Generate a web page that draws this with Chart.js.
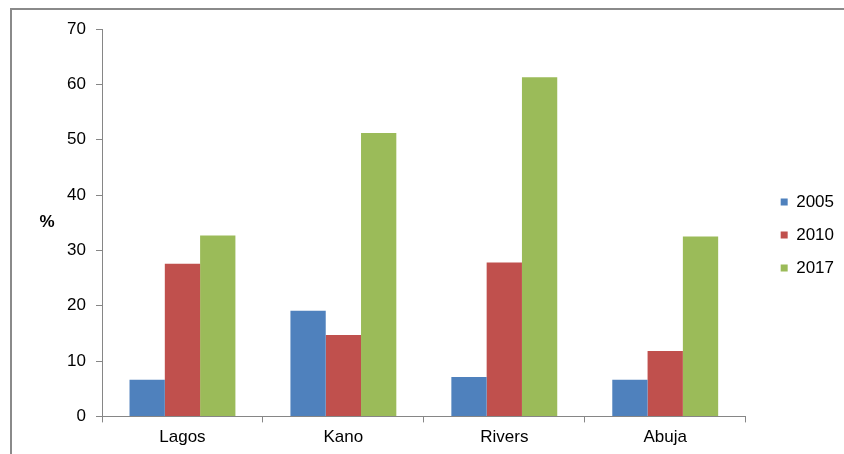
<!DOCTYPE html>
<html>
<head>
<meta charset="utf-8">
<script src="https://cdn.jsdelivr.net/npm/chart.js@4/dist/chart.umd.min.js"></script>
<style>
  html, body { margin: 0; padding: 0; background: #fff; }
  #wrap { position: relative; width: 844px; height: 454px; }
</style>
</head>
<body>
<div id="wrap"><canvas id="c" width="844" height="454"></canvas></div>
<script>
// States on the category axis
const states = ['Lagos', 'Kano', 'Rivers', 'Abuja'];
// Share (%) per state for each survey year
const y2005 = [6.6, 19.1, 7.1, 6.6];
const y2010 = [27.6, 14.7, 27.8, 11.8];
const y2017 = [32.7, 51.2, 61.3, 32.5];
const seriesNames = ['2005', '2010', '2017'];
const seriesColors = ['#4F81BD', '#C0504D', '#9BBB59'];
const yTicks = [0, 10, 20, 30, 40, 50, 60, 70];

const FONT = 'Liberation Sans, Arial, sans-serif';
const AXIS = '#868686';

// Outer frame on the left and top edges, plus the "%" axis caption
const framePlugin = {
  id: 'frame',
  beforeDraw(chart) {
    const ctx = chart.ctx;
    ctx.save();
    ctx.strokeStyle = '#8a8a8a';
    ctx.lineWidth = 2;
    ctx.beginPath();
    ctx.moveTo(11, chart.height);
    ctx.lineTo(11, 9);
    ctx.lineTo(chart.width, 9);
    ctx.stroke();
    ctx.restore();
  },
  afterDraw(chart) {
    const ctx = chart.ctx;
    const a = chart.chartArea;
    ctx.save();
    ctx.font = 'bold 17px ' + FONT;
    ctx.fillStyle = '#000';
    ctx.textAlign = 'center';
    ctx.textBaseline = 'middle';
    ctx.fillText('%', 47, (a.top + a.bottom) / 2);
    ctx.restore();
  }
};

// Leave a gap between the plot and the legend, and lift the legend slightly
const legendGap = {
  id: 'legendGap',
  afterLayout(chart) {
    const lg = chart.legend;
    if (lg) {
      lg.left += 19; lg.right += 19;
      lg.top -= 6; lg.bottom -= 6;
    }
  }
};

new Chart(document.getElementById('c'), {
  type: 'bar',
  data: {
    labels: states,
    datasets: [y2005, y2010, y2017].map((d, i) => ({
      label: seriesNames[i],
      data: d,
      backgroundColor: seriesColors[i],
      borderWidth: 0,
      categoryPercentage: 0.658,
      barPercentage: 1
    }))
  },
  options: {
    responsive: false,
    animation: false,
    devicePixelRatio: 1,
    layout: { padding: { top: 29, bottom: 1.2, left: 0, right: 19 } },
    plugins: {
      tooltip: { enabled: false },
      legend: {
        position: 'right',
        labels: {
          boxWidth: 7,
          boxHeight: 7,
          padding: 16,
          color: '#000',
          font: { family: FONT, size: 17 }
        }
      }
    },
    scales: {
      x: {
        grid: { display: true, offset: true, drawOnChartArea: false, tickLength: 6, color: AXIS },
        border: { color: AXIS, width: 1 },
        ticks: { color: '#000', padding: 5, font: { family: FONT, size: 17 } }
      },
      y: {
        min: 0,
        max: 70,
        afterBuildTicks(s) { s.ticks = yTicks.map(v => ({ value: v })); },
        grid: { display: true, drawOnChartArea: false, tickLength: 6, color: AXIS },
        border: { color: AXIS, width: 1 },
        ticks: { color: '#000', padding: 10, font: { family: FONT, size: 17 } },
        afterFit(s) { s.width = 102; }
      }
    }
  },
  plugins: [framePlugin, legendGap]
});
</script>
</body>
</html>
